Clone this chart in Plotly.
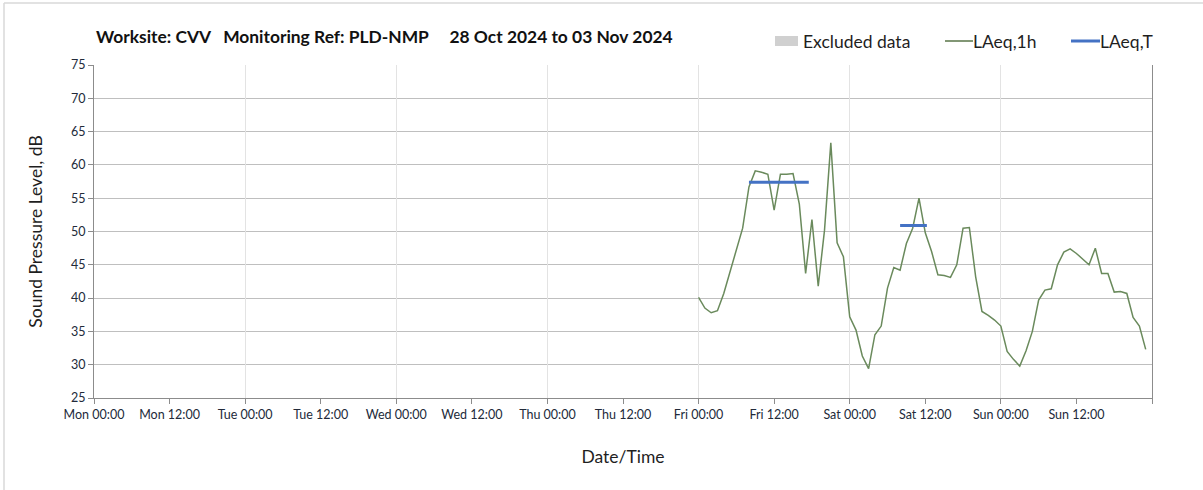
import plotly.graph_objects as go
import pandas as pd

# ---------------- data ----------------
title_text = ("Worksite: CVV&nbsp;&nbsp;&nbsp;Monitoring Ref: PLD-NMP"
              "&nbsp;&nbsp;&nbsp;&nbsp;&nbsp;28 Oct 2024 to 03 Nov 2024")
period_start = "2024-10-28 00:00"
period_end = "2024-11-04 00:00"

laeq_1h_start = "2024-11-01 00:00"
laeq_1h = [
    40.1, 38.5, 37.8, 38.1, 40.7, 44.0, 47.5, 50.5, 56.7, 59.1,
    58.9, 58.6, 53.2, 58.6, 58.6, 58.7, 54.1, 43.7, 51.8, 41.8,
    50.2, 63.3, 48.3, 46.2, 37.2, 35.2, 31.3, 29.4, 34.5, 35.8,
    41.5, 44.6, 44.2, 48.2, 50.5, 55.0, 49.8, 47.0, 43.5, 43.4,
    43.1, 45.0, 50.5, 50.6, 43.2, 38.0, 37.4, 36.7, 35.8, 32.0,
    30.8, 29.8, 32.1, 35.0, 39.7, 41.2, 41.4, 45.0, 46.9, 47.4,
    46.7, 45.8, 45.0, 47.5, 43.7, 43.7, 40.9, 41.0, 40.7, 37.1,
    35.8, 32.3,
]

laeq_t_starts = ["2024-11-01 08:00", "2024-11-02 08:00"]
laeq_t_ends = ["2024-11-01 17:30", "2024-11-02 12:15"]
laeq_t_values = [57.4, 50.9]

y_ticks = list(range(25, 80, 5))

# ---------------- figure ----------------
GREEN = "#6a8a5c"
BLUE = "#4472C4"
FONT = "Lato"
TXT = "#1f1f1f"
TICK = "#222a3a"

times = pd.date_range(laeq_1h_start, periods=len(laeq_1h), freq="h")

fig = go.Figure()

fig.add_trace(go.Scatter(
    x=times, y=laeq_1h, mode="lines", name="LAeq,1h",
    line=dict(color=GREEN, width=1.5), showlegend=False,
))

for s, e, v in zip(laeq_t_starts, laeq_t_ends, laeq_t_values):
    fig.add_trace(go.Scatter(
        x=[s, e], y=[v, v], mode="lines", name="LAeq,T",
        line=dict(color=BLUE, width=3), showlegend=False,
    ))

# day gridlines via an overlaying axis
fig.add_trace(go.Scatter(x=[period_start, period_end], y=[None, None],
                         xaxis="x2", showlegend=False, hoverinfo="skip"))

tickvals = pd.date_range(period_start, period_end, freq="12h")
ticktext = [t.strftime("%a %H:%M") for t in tickvals[:-1]] + [""]

fig.update_layout(
    width=1203, height=490,
    paper_bgcolor="white", plot_bgcolor="white",
    margin=dict(l=94, r=51, t=65, b=92),
    font=dict(family=FONT, color=TXT),
    xaxis=dict(
        range=[period_start, period_end], type="date",
        tickvals=tickvals, ticktext=ticktext,
        showgrid=False, zeroline=False,
        showline=True, linecolor="#8c8c8c", linewidth=1,
        ticks="outside", ticklen=5, tickcolor="#8c8c8c",
        tickfont=dict(size=12.5, family=FONT, color=TICK),
        title=dict(text="Date/Time", font=dict(size=17.5, family=FONT, color=TXT),
                   standoff=29),
    ),
    xaxis2=dict(
        range=[period_start, period_end], type="date", overlaying="x",
        dtick=86400000, tick0=period_start,
        showgrid=True, gridcolor="#e3e3e3", gridwidth=1,
        showticklabels=False, ticks="", showline=False, zeroline=False,
    ),
    yaxis=dict(
        range=[25, 75], tickvals=y_ticks,
        showgrid=True, gridcolor="#bfbfbf", gridwidth=1, zeroline=False,
        showline=True, linecolor="#8c8c8c", linewidth=1, mirror=True,
        ticks="outside", ticklen=5, tickcolor="#8c8c8c",
        tickfont=dict(size=12.5, family=FONT, color=TICK),
        title=dict(text="Sound Pressure Level, dB",
                   font=dict(size=17.5, family=FONT, color=TXT), standoff=23),
    ),
)

# title
fig.add_annotation(
    text="<b>" + title_text + "</b>", xref="paper", yref="paper",
    x=(94 - 94) / 1058, y=(398 - 37) / 333, xanchor="left", yanchor="middle",
    showarrow=False, font=dict(size=17.4, family=FONT, color="#111111"),
)

# manual legend
def px_x(p):
    return (p - 94) / 1058

def px_y(p):
    return (398 - p) / 333

ly = 41
fig.add_shape(type="rect", xref="paper", yref="paper",
              x0=px_x(775), x1=px_x(798), y0=px_y(ly + 5), y1=px_y(ly - 5),
              fillcolor="#d0d0d0", line=dict(width=0))
fig.add_annotation(text="Excluded data", xref="paper", yref="paper",
                   x=px_x(801), y=px_y(ly), xanchor="left", yanchor="middle",
                   showarrow=False, font=dict(size=17.5, family=FONT, color=TXT))
fig.add_shape(type="line", xref="paper", yref="paper",
              x0=px_x(945), x1=px_x(973), y0=px_y(ly), y1=px_y(ly),
              line=dict(color="#3f5f2a", width=1.3))
fig.add_annotation(text="LAeq,1h", xref="paper", yref="paper",
                   x=px_x(971), y=px_y(ly), xanchor="left", yanchor="middle",
                   showarrow=False, font=dict(size=17.5, family=FONT, color=TXT))
fig.add_shape(type="line", xref="paper", yref="paper",
              x0=px_x(1071), x1=px_x(1100), y0=px_y(ly), y1=px_y(ly),
              line=dict(color=BLUE, width=3))
fig.add_annotation(text="LAeq,T", xref="paper", yref="paper",
                   x=px_x(1098), y=px_y(ly), xanchor="left", yanchor="middle",
                   showarrow=False, font=dict(size=17.5, family=FONT, color=TXT))

# outer frame lines (left and top)
fig.add_shape(type="line", xref="paper", yref="paper",
              x0=px_x(4), x1=px_x(4), y0=px_y(3), y1=px_y(490),
              line=dict(color="#d9d9d9", width=1.5))
fig.add_shape(type="line", xref="paper", yref="paper",
              x0=px_x(4), x1=px_x(1203), y0=px_y(3), y1=px_y(3),
              line=dict(color="#d9d9d9", width=1.5))

fig.write_html("out.html", config={"displayModeBar": False},
               post_script="document.body.style.margin='0';document.body.style.padding='0';")
